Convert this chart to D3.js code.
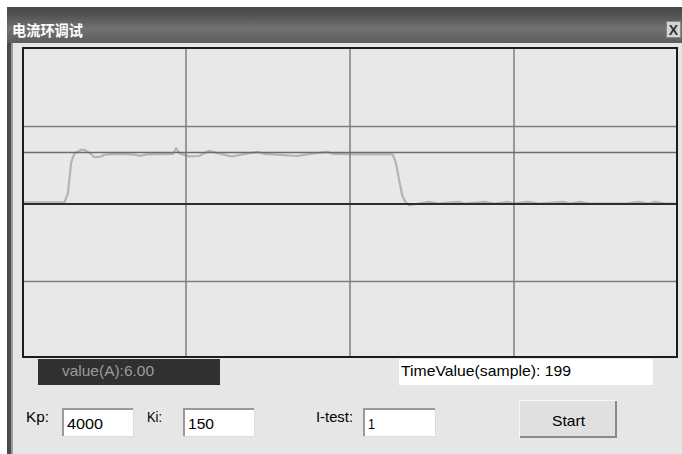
<!DOCTYPE html>
<html>
<head>
<meta charset="utf-8">
<script src="https://cdn.jsdelivr.net/npm/d3@7"></script>
<style>
	body { margin: 0; background: #fff; }
	svg { display: block; }
</style>
</head>
<body>
<div id="panel"></div>
<script>
// GLOBAL DATA

// Sample index of each point
const samples = [0, 7, 13, 14, 15, 16, 17, 18, 19, 20, 21, 22, 23, 24, 25, 26, 31, 35, 36, 38,
	46, 47, 48, 51, 54, 57, 60, 64, 68, 72, 74, 84, 88, 93, 95, 103, 113, 114, 115, 116,
	117, 118, 121, 124, 127, 130, 133, 135, 141, 144, 148, 150, 154, 158, 165, 167, 170, 173, 184, 188,
	191, 193, 196, 199];
// Measured current (A) at those samples
const current = [0.035, 0.035, 0.035, 0.21, 0.81, 0.98, 1.01, 1.05, 1.05, 1.01, 0.97, 0.91, 0.91, 0.92, 0.95, 0.96, 0.97, 0.95, 0.93, 0.96,
	0.97, 1.08, 0.98, 0.92, 0.93, 1.03, 0.98, 0.92, 0.97, 1.01, 0.97, 0.93, 0.97, 1.01, 0.97, 0.96, 0.96, 0.80, 0.45, 0.15,
	0.03, -0.02, 0.01, 0.045, 0.01, 0.03, 0.045, 0.01, 0.045, 0.01, 0.045, 0.01, 0.045, 0.01, 0.045, 0.01, 0.045, 0.01, 0.01, 0.045,
	0.01, 0.045, 0.01, 0.01];
// Grid positions
const xTicks = [50, 100, 150];
const yTicks = [-1.5, 1.5];
// Test current set point (I-test)
const setPoint = 1;

// Dialog texts
const title = "电流环调试";
const valueText = "value(A):6.00";
const timeText = "TimeValue(sample): 199";
const params = [["Kp:", "4000"], ["Ki:", "150"], ["I-test:", "1"]];
const buttonText = "Start";

const width = 682, height = 454;
const plot = {left: 23, top: 48, right: 677, bottom: 357};

const svg = d3.select("#panel")
  .append("svg")
    .attr("width", width)
    .attr("height", height);

// Scales
const x = d3.scaleLinear().domain([0, 200]).range([plot.left - 1, plot.right + 1]);
const y = d3.scaleLinear().domain([-2.96, 3.02]).range([plot.bottom, plot.top]);

// Title bar gradient
const grad = svg.append("defs").append("linearGradient")
    .attr("id", "bar").attr("x1", 0).attr("y1", 0).attr("x2", 0).attr("y2", 1);
grad.append("stop").attr("offset", "0%").attr("stop-color", "#474747");
grad.append("stop").attr("offset", "25%").attr("stop-color", "#555");
grad.append("stop").attr("offset", "60%").attr("stop-color", "#727272");
grad.append("stop").attr("offset", "100%").attr("stop-color", "#5c5c5c");

// Window body
svg.append("rect").attr("x", 7).attr("y", 7).attr("width", width - 7).attr("height", height - 7)
    .attr("fill", "#e6e6e6");
svg.append("rect").attr("x", 7).attr("y", 7).attr("width", width - 7).attr("height", 36)
    .attr("fill", "url(#bar)");
svg.append("rect").attr("x", 7).attr("y", 43).attr("width", 4).attr("height", height - 43)
    .attr("fill", "#4a4a4a");
svg.append("rect").attr("x", 11).attr("y", 43).attr("width", 2).attr("height", height - 43)
    .attr("fill", "#9c9c9c");

svg.append("text")
    .attr("x", 12).attr("y", 36)
    .attr("font-family", "Noto Sans CJK SC")
    .attr("font-size", 15).attr("font-weight", "bold")
    .attr("fill", "#fff")
    .attr("textLength", 71).attr("lengthAdjust", "spacingAndGlyphs")
    .text(title);

// Close button
svg.append("rect").attr("x", 666.5).attr("y", 21.5).attr("width", 14).attr("height", 16)
    .attr("fill", "#d4d4d4").attr("stroke", "#888");
svg.append("text")
    .attr("x", 673.5).attr("y", 35)
    .attr("text-anchor", "middle")
    .attr("font-family", "Liberation Sans").attr("font-size", 14).attr("font-weight", "bold")
    .attr("fill", "#333")
    .text("X");

// Plot area
svg.append("rect")
    .attr("x", plot.left).attr("y", plot.top)
    .attr("width", plot.right - plot.left).attr("height", plot.bottom - plot.top)
    .attr("fill", "#e8e8e8");

// Current trace
const line = d3.line()
  .x((d, i) => x(samples[i]))
  .y(d => y(d));

svg.append("path")
    .datum(current)
    .attr("d", line)
    .attr("fill", "none")
    .attr("stroke", "#b4b4b4")
    .attr("stroke-width", 2.2)
    .attr("stroke-linejoin", "round");

// Grid on top of the trace
svg.selectAll(".vgrid")
  .data(xTicks)
  .enter()
  .append("line")
    .attr("x1", d => x(d)).attr("x2", d => x(d))
    .attr("y1", plot.top).attr("y2", plot.bottom)
    .attr("stroke", "#7e7e7e").attr("stroke-width", 1.5);

svg.selectAll(".hgrid")
  .data(yTicks)
  .enter()
  .append("line")
    .attr("x1", plot.left).attr("x2", plot.right)
    .attr("y1", d => y(d)).attr("y2", d => y(d))
    .attr("stroke", "#7e7e7e").attr("stroke-width", 1.5);

// Set point line
svg.append("line")
    .attr("x1", plot.left).attr("x2", plot.right)
    .attr("y1", y(setPoint)).attr("y2", y(setPoint))
    .attr("stroke", "#6c6c6c").attr("stroke-width", 1.5);

// Zero line
svg.append("line")
    .attr("x1", plot.left).attr("x2", plot.right)
    .attr("y1", y(0)).attr("y2", y(0))
    .attr("stroke", "#2e2e2e").attr("stroke-width", 2);

// Frame
svg.append("rect")
    .attr("x", plot.left).attr("y", plot.top)
    .attr("width", plot.right - plot.left).attr("height", plot.bottom - plot.top)
    .attr("fill", "none").attr("stroke", "#1c1c1c").attr("stroke-width", 2);

// Helper for the narrow dialog labels
function label(px, py, str, len, color) {
	return svg.append("text")
	    .attr("x", px).attr("y", py)
	    .attr("font-family", "Liberation Sans")
	    .attr("font-size", 15)
	    .attr("fill", color || "#000")
	    .attr("textLength", len).attr("lengthAdjust", "spacingAndGlyphs")
	    .text(str);
}

// Status boxes
svg.append("rect").attr("x", 38).attr("y", 359).attr("width", 182).attr("height", 26)
    .attr("fill", "#303030");
label(62, 376, valueText, 92, "#9c9c9c");

svg.append("rect").attr("x", 399).attr("y", 359).attr("width", 254).attr("height", 26)
    .attr("fill", "#fff");
label(401, 376, timeText, 170);

// Parameter inputs
const labelX = [26, 147, 316], labelW = [23, 15, 37];
const boxX = [62, 183, 363], boxW = [71, 71, 72];
const valueW = [36, 26, 7];

params.forEach((p, i) => {
	label(labelX[i], 422, p[0], labelW[i]);
	svg.append("rect").attr("x", boxX[i] + 0.5).attr("y", 408.5).attr("width", boxW[i]).attr("height", 28)
	    .attr("fill", "#fff").attr("stroke", "#dcdcdc");
	svg.append("path")
	    .attr("d", `M${boxX[i] + 1},436 V409 H${boxX[i] + boxW[i]}`)
	    .attr("fill", "none").attr("stroke", "#9a9a9a").attr("stroke-width", 2);
	label(boxX[i] + 5, 429, p[1], valueW[i]);
});

// Start button
svg.append("rect").attr("x", 519.5).attr("y", 400.5).attr("width", 97).attr("height", 37)
    .attr("fill", "#e0e0e0").attr("stroke", "#f8f8f8");
svg.append("path")
    .attr("d", "M520,437 H616 V401")
    .attr("fill", "none").attr("stroke", "#8a8a8a").attr("stroke-width", 2);
label(552, 426, buttonText, 33);
</script>
</body>
</html>
